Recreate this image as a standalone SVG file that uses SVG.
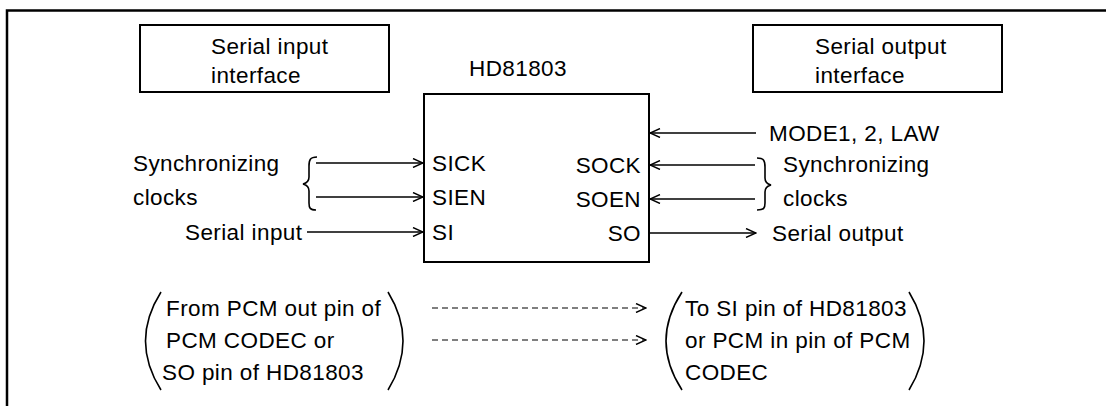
<svg xmlns="http://www.w3.org/2000/svg" width="1106" height="406" viewBox="0 0 1106 406">
<defs>
<style>
text{font-family:"Liberation Sans",Arial,Helvetica,sans-serif;font-size:22.5px;letter-spacing:0.4px;fill:#000}
.box{fill:none;stroke:#000;stroke-width:2}
.ln{fill:none;stroke:#000;stroke-width:1.4}
.dash{fill:none;stroke:#000;stroke-width:1.2;stroke-dasharray:6 4}
.br{fill:none;stroke:#000;stroke-width:1.6}
.end{text-anchor:end}
.mid{text-anchor:middle}
</style>
<marker id="arr" viewBox="0 0 12 10" refX="11" refY="5" markerWidth="12" markerHeight="10" markerUnits="userSpaceOnUse" orient="auto">
<path d="M1,0.5 L11,5 L1,9.5" fill="none" stroke="#000" stroke-width="1.4"/>
</marker>
</defs>
<rect width="1106" height="406" fill="#fff"/>
<g id="frame"><path d="M7,406 V10.5 H1106" fill="none" stroke="#000" stroke-width="2.5"/></g>
<g id="serial-input-interface">
<rect class="box" x="140" y="25" width="249" height="67"/>
<text x="211" y="54">Serial input</text>
<text x="211" y="83">interface</text>
</g>
<g id="serial-output-interface">
<rect class="box" x="753" y="25" width="249" height="67"/>
<text x="815" y="54">Serial output</text>
<text x="815" y="83">interface</text>
</g>
<g id="hd81803">
<text class="mid" x="518" y="76">HD81803</text>
<rect class="box" x="424" y="94" width="225" height="168"/>
<text x="432" y="171">SICK</text>
<text x="432" y="205">SIEN</text>
<text x="432" y="240">SI</text>
<text class="end" x="641" y="173">SOCK</text>
<text class="end" x="641" y="207">SOEN</text>
<text class="end" x="641" y="241">SO</text>
</g>
<g id="left-inputs">
<text x="133" y="171">Synchronizing</text>
<text x="133" y="205">clocks</text>
<text x="185" y="240">Serial input</text>
<path class="br" d="M317,157 C310,157 309,160 309,166 L309,177 C309,181 307,183 303,184 C307,185 309,187 309,191 L309,203 C309,208 310,210 316,210"/>
</g>
<g id="right-io">
<text x="769" y="141">MODE1, 2, LAW</text>
<text x="783" y="172">Synchronizing</text>
<text x="783" y="206">clocks</text>
<text x="772" y="241">Serial output</text>
<path class="br" d="M757,158 C764,158 765,161 765,167 L765,178 C765,182 767,184 771,185 C767,186 765,188 765,192 L765,203 C765,208 764,210 757,210"/>
</g>
<g id="from-note">
<path class="br" d="M161,292 Q130,341 161,390"/>
<text x="166" y="316">From PCM out pin of</text>
<text x="166" y="348">PCM CODEC or</text>
<text x="162" y="380">SO pin of HD81803</text>
<path class="br" d="M388,292 Q418,341 388,390"/>
</g>
<g id="to-note">
<path class="br" d="M682,292 Q650,341 682,390"/>
<text x="685" y="316">To SI pin of HD81803</text>
<text x="685" y="348">or PCM in pin of PCM</text>
<text x="685" y="380">CODEC</text>
<path class="br" d="M909,292 Q939,341 909,390"/>
</g>
<g id="connectors">
<line class="ln" x1="316" y1="163" x2="423" y2="163" marker-end="url(#arr)"/>
<line class="ln" x1="316" y1="197" x2="423" y2="197" marker-end="url(#arr)"/>
<line class="ln" x1="307" y1="232" x2="423" y2="232" marker-end="url(#arr)"/>
<line class="ln" x1="756" y1="133" x2="650" y2="133" marker-end="url(#arr)"/>
<line class="ln" x1="755" y1="165" x2="650" y2="165" marker-end="url(#arr)"/>
<line class="ln" x1="755" y1="199" x2="650" y2="199" marker-end="url(#arr)"/>
<line class="ln" x1="650" y1="233" x2="756" y2="233" marker-end="url(#arr)"/>
<line class="dash" x1="432" y1="308" x2="646" y2="308" marker-end="url(#arr)"/>
<line class="dash" x1="432" y1="340" x2="646" y2="340" marker-end="url(#arr)"/>
</g>
</svg>
